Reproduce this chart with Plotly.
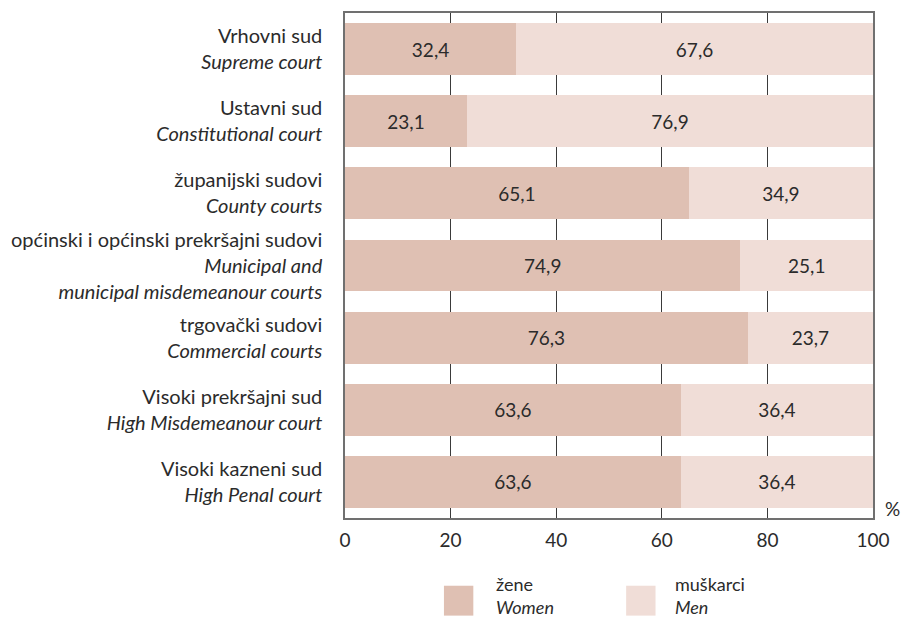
import plotly.graph_objects as go

categories_hr = ["Vrhovni sud", "Ustavni sud", "županijski sudovi",
                 "općinski i općinski prekršajni sudovi", "trgovački sudovi",
                 "Visoki prekršajni sud", "Visoki kazneni sud"]
categories_en = ["Supreme court", "Constitutional court", "County courts",
                 "Municipal and<br>municipal misdemeanour courts", "Commercial courts",
                 "High Misdemeanour court", "High Penal court"]
women = [32.4, 23.1, 65.1, 74.9, 76.3, 63.6, 63.6]
men = [67.6, 76.9, 34.9, 25.1, 23.7, 36.4, 36.4]
x_ticks = [0, 20, 40, 60, 80, 100]

C_WOMEN = "#dfc0b3"
C_MEN = "#f0ddd7"
FONT = "Lato"
TXT = "#2b2b2b"

labels = []
for hr, en in zip(categories_hr, categories_en):
    en_it = "<br>".join(f"<i>{p}</i>" for p in en.split("<br>"))
    labels.append(f"{hr}<br>{en_it}")

def fmt(v):
    return f"{v:.1f}".replace(".", ",")

fig = go.Figure()
for vals, col, name in [(women, C_WOMEN, "žene"), (men, C_MEN, "muškarci")]:
    fig.add_trace(go.Bar(y=labels, x=vals, orientation="h", name=name,
                         marker=dict(color=col, line=dict(width=0)),
                         text=[fmt(v) for v in vals], textposition="inside",
                         insidetextanchor="middle", textangle=0,
                         textfont=dict(color=TXT, size=19, family=FONT)))

W, H = 901, 620
ML, MR, MT, MB = 334, 28, 11, 102

fig.update_layout(
    width=W, height=H,
    barmode="stack", bargap=0.28,
    margin=dict(l=ML, r=MR, t=MT, b=MB),
    paper_bgcolor="white", plot_bgcolor="white",
    showlegend=False,
    font=dict(family=FONT, size=19, color=TXT),
    uniformtext=dict(mode="show", minsize=19),
)
fig.update_xaxes(range=[0, 100], tickvals=x_ticks, ticktext=[str(v) for v in x_ticks],
                 showgrid=True, gridcolor="#3a3a3a", gridwidth=1,
                 showline=True, linecolor="#707070", linewidth=1.5, mirror=True,
                 ticks="", zeroline=False, tickfont=dict(size=19, family=FONT, color=TXT),
                 ticklabelstandoff=4)
fig.update_yaxes(autorange="reversed", showline=True, linecolor="#707070", linewidth=1.5,
                 mirror=True, ticks="", showgrid=False,
                 tickfont=dict(size=20, family=FONT, color=TXT),
                 ticklabelstandoff=17)

# % label
fig.add_annotation(xref="paper", yref="paper", x=1.0, y=0.0, xanchor="center",
                   yanchor="middle", xshift=19, yshift=10,
                   text="%", showarrow=False, font=dict(size=19, family=FONT, color=TXT))

# custom legend (pixel positions converted to paper coordinates)
PW = W - ML - MR
PH = H - MT - MB

def sx(px):
    return (px - ML) / PW

def sy(py):
    return (H - MB - py) / PH

for (x0, x1, col, l1, l2, tx) in [(435, 465, C_WOMEN, "žene", "Women", 486),
                                   (621, 651, C_MEN, "muškarci", "Men", 669)]:
    fig.add_shape(type="rect", xref="paper", yref="paper",
                  x0=sx(x0), x1=sx(x1), y0=sy(616), y1=sy(586),
                  fillcolor=col, line=dict(width=0))
    fig.add_annotation(xref="paper", yref="paper", x=sx(tx), y=sy(596),
                       xanchor="left", yanchor="middle", align="left",
                       text=f"{l1}<br><i>{l2}</i>", showarrow=False,
                       font=dict(size=18, family=FONT, color=TXT))

fig.write_html("out.html", config={"displayModeBar": False},
               post_script="document.body.style.margin='0';document.body.style.overflow='hidden';")
